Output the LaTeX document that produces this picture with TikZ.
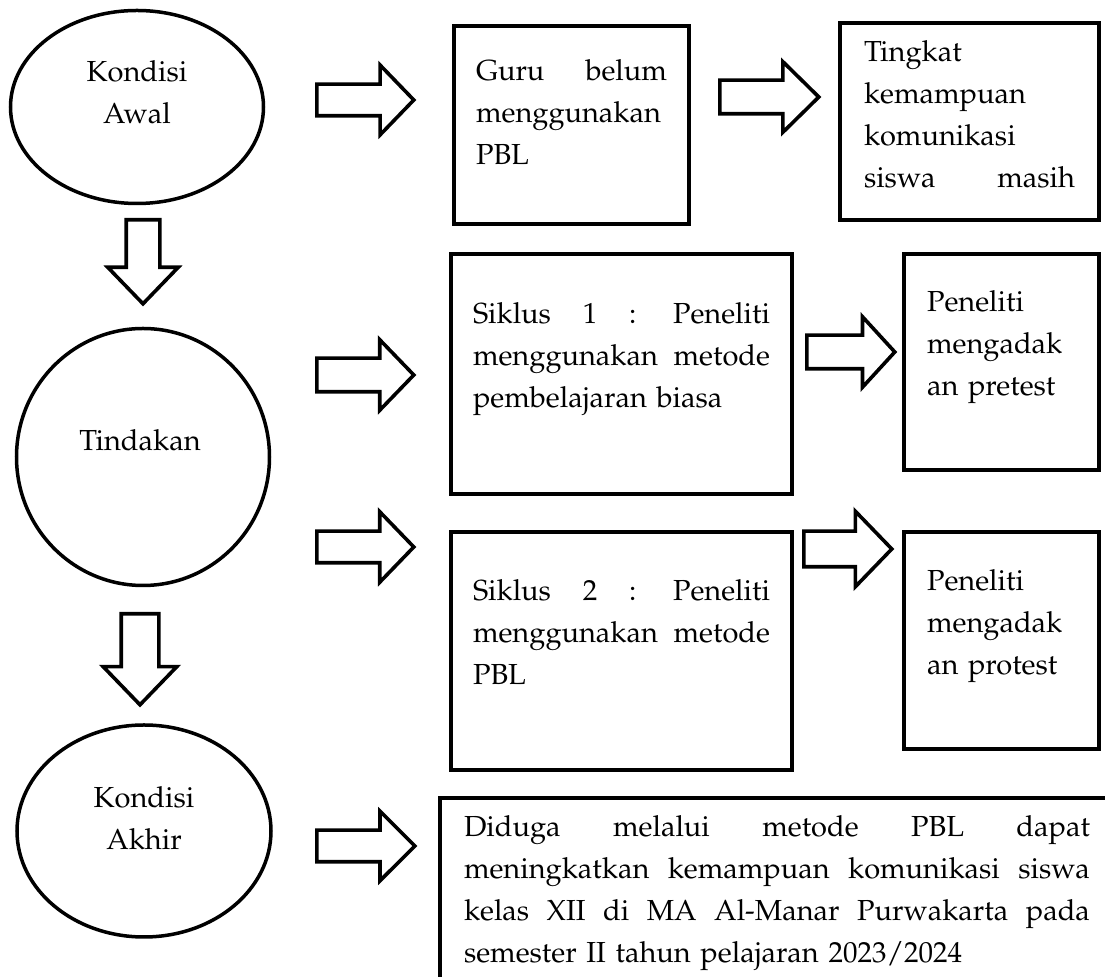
\documentclass[tikz,border=0pt]{standalone}
\usepackage[T1]{fontenc}
\usepackage{mathpazo}
\usepackage{tikz}
\usetikzlibrary{shapes.geometric,shapes.arrows}
\newcommand{\bodyfont}{\fontsize{14.5}{21}\selectfont}
\tikzset{
    box/.style={draw, rectangle, line width=2pt, inner ysep=0pt, inner xsep=11pt, align=left, anchor=north west, font=\bodyfont},
    oval/.style={draw, ellipse, line width=1.75pt, inner sep=0pt},
    txt/.style={align=center, inner sep=0pt, font=\bodyfont},
    bigarr/.style={draw, single arrow, line width=1.8pt, inner xsep=0pt, inner ysep=7.5pt, minimum width=0pt, anchor=tail, single arrow head extend=9.25pt, single arrow tip angle=92}
}

\begin{document}
\begin{tikzpicture}[x=0.5pt, y=-0.5pt]
        \useasboundingbox (0,0) rectangle (1105,977);
        \clip (0,0) rectangle (1105,977);

        % Left column: the three conditions
        \node [oval, minimum width=126.5pt, minimum height=96.5pt] (awal) at (137,107) {};
        \node [txt] (awaltxt) at (137,92) {Kondisi\\Awal};
        \node [oval, minimum width=126.5pt, minimum height=128.5pt] (tindakan) at (143,457) {};
        \node [txt] (tindakantxt) at (140,440) {Tindakan};
        \node [oval, minimum width=127pt, minimum height=106pt] (akhir) at (144,831) {};
        \node [txt] (akhirtxt) at (144,818) {Kondisi\\Akhir};

        % Down arrows between the conditions
        \node [bigarr, rotate=-90, minimum height=42pt, single arrow tip angle=88] (d1) at (143,218) {};
        \node [bigarr, rotate=-90, minimum height=45.5pt, inner ysep=8.5pt, single arrow head extend=9pt, single arrow tip angle=88] (d2) at (140,612) {};

        % Boxes
        \node [box, text width=95.5pt, text height=27.5pt, text depth=71.5pt] (guru) at (452,24)
            {Guru \hfill belum\\menggunakan\\PBL};
        \node [box, inner xsep=12pt, text width=105.5pt, text height=19.5pt, text depth=79pt] (tingkat) at (838,21)
            {Tingkat\\kemampuan\\komunikasi\\siswa \hfill masih};
        \node [box, text width=148.5pt, text height=35pt, text depth=85pt] (siklus1) at (449,252)
            {Siklus \hfill 1 \hfill : \hfill Peneliti\\menggunakan \hfill metode\\pembelajaran biasa};
        \node [box, inner xsep=11.5pt, text width=74.5pt, text height=29pt, text depth=79pt] (pretest) at (902,252)
            {Peneliti\\mengadak\\an pretest};
        \node [box, text width=148.5pt, text height=34.5pt, text depth=84.5pt] (siklus2) at (449,530)
            {Siklus \hfill 2 \hfill : \hfill Peneliti\\menggunakan \hfill metode\\PBL};
        \node [box, inner xsep=11.5pt, text width=74.5pt, text height=29.5pt, text depth=79pt] (protest) at (902,530)
            {Peneliti\\mengadak\\an protest};
        \node [box, inner xsep=12pt, text width=313pt, text height=19.5pt, text depth=72pt] (hasil) at (438,796)
            {Diduga \hfill melalui \hfill metode \hfill PBL \hfill dapat\\
             meningkatkan \hfill kemampuan \hfill komunikasi \hfill siswa\\
             kelas \hfill XII \hfill di \hfill MA \hfill Al-Manar \hfill Purwakarta \hfill pada\\
             semester II tahun pelajaran 2023/2024};

        % Right arrows
        \node [bigarr, minimum height=48.5pt, inner ysep=7pt, single arrow head extend=9.5pt] (a1) at (315,100) {};
        \node [bigarr, minimum height=49.5pt, single arrow tip angle=89] (a2) at (718,97) {};
        \node [bigarr, minimum height=48.5pt] (a3) at (315,375) {};
        \node [bigarr, minimum height=44pt, single arrow tip angle=95] (a4) at (805,352) {};
        \node [bigarr, minimum height=48.5pt, inner ysep=7pt, single arrow head extend=9.75pt] (a5) at (315,547) {};
        \node [bigarr, minimum height=44pt, inner ysep=8pt, single arrow head extend=10pt] (a6) at (802,549) {};
        \node [bigarr, minimum height=49pt, inner ysep=7pt, single arrow head extend=9.5pt, single arrow tip angle=90] (a7) at (315,846) {};
    \end{tikzpicture}
\end{document}
